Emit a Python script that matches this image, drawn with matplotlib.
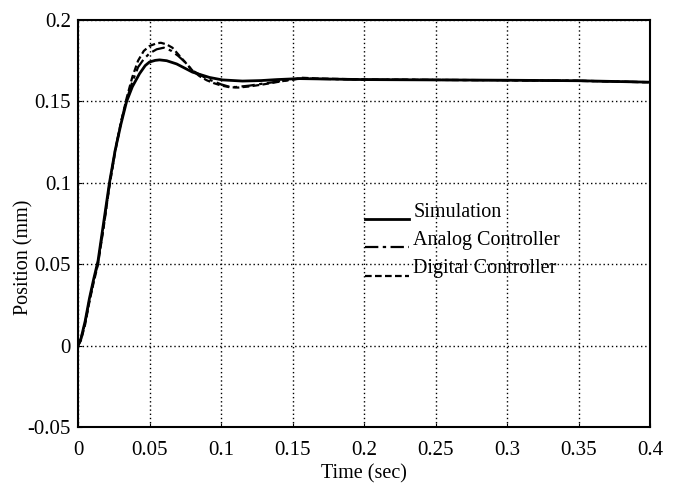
import numpy as np
import matplotlib
matplotlib.use("Agg")
import matplotlib.pyplot as plt
from matplotlib.legend_handler import HandlerLine2D

# ---- data ----
t_sim = [0, 0.002, 0.005, 0.008, 0.011, 0.014, 0.018, 0.022, 0.026, 0.030, 0.034,
         0.038, 0.043, 0.047, 0.050, 0.054, 0.057, 0.062, 0.069, 0.080, 0.092,
         0.101, 0.115, 0.128, 0.139, 0.155, 0.17, 0.20, 0.25, 0.30, 0.35, 0.40]
y_sim = [0, 0.004, 0.015, 0.029, 0.041, 0.052, 0.076, 0.100, 0.120, 0.136, 0.150,
         0.159, 0.167, 0.172, 0.1742, 0.1752, 0.1755, 0.1750, 0.1730, 0.1680, 0.1647,
         0.1632, 0.1625, 0.1628, 0.1634, 0.1640, 0.1638, 0.1634, 0.1632, 0.1630, 0.1627, 0.1618]

t_ana = [0, 0.002, 0.005, 0.008, 0.011, 0.014, 0.018, 0.022, 0.026, 0.030, 0.034,
         0.038, 0.042, 0.046, 0.050, 0.055, 0.060, 0.065, 0.070, 0.075, 0.080,
         0.090, 0.100, 0.105, 0.110, 0.120, 0.130, 0.140, 0.155, 0.17, 0.20, 0.25,
         0.30, 0.35, 0.40]
y_ana = [0, 0.004, 0.014, 0.028, 0.040, 0.051, 0.074, 0.099, 0.120, 0.137, 0.151,
         0.162, 0.171, 0.176, 0.1795, 0.1820, 0.1830, 0.1812, 0.1780, 0.1740, 0.1690,
         0.1640, 0.1605, 0.1592, 0.1588, 0.1597, 0.1610, 0.1622, 0.1640, 0.1638, 0.1634,
         0.1632, 0.1630, 0.1627, 0.1618]

t_dig = [0, 0.002, 0.005, 0.008, 0.011, 0.014, 0.018, 0.022, 0.026, 0.030, 0.034,
         0.038, 0.042, 0.046, 0.050, 0.055, 0.058, 0.062, 0.066, 0.070, 0.075,
         0.080, 0.085, 0.090, 0.095, 0.100, 0.106, 0.112, 0.120, 0.130, 0.140,
         0.157, 0.17, 0.20, 0.25, 0.30, 0.35, 0.40]
y_dig = [0, 0.003, 0.013, 0.027, 0.039, 0.050, 0.073, 0.098, 0.119, 0.137, 0.152,
         0.165, 0.175, 0.181, 0.184, 0.1857, 0.1860, 0.1850, 0.1830, 0.1790, 0.1740,
         0.1690, 0.1655, 0.1630, 0.1612, 0.1598, 0.1587, 0.1585, 0.1592, 0.1605, 0.1620,
         0.1645, 0.1640, 0.1635, 0.1632, 0.1630, 0.1626, 0.1617]

labels = ["Simulation", "Analog Controller", "Digital Controller"]
xticks = [0, 0.05, 0.1, 0.15, 0.2, 0.25, 0.3, 0.35, 0.4]
xticklabels = ["0", "0.05", "0.1", "0.15", "0.2", "0.25", "0.3", "0.35", "0.4"]
yticks = [-0.05, 0, 0.05, 0.1, 0.15, 0.2]
yticklabels = ["-0.05", "0", "0.05", "0.1", "0.15", "0.2"]

plt.rcParams['font.family'] = ['Liberation Serif', 'DejaVu Serif']

fig = plt.figure(figsize=(6.81, 4.83), dpi=100)
ax = fig.add_axes([78/681, 1-427/483, (650-78)/681, (427-20)/483])

l1, = ax.plot(t_sim, y_sim, color='black', lw=2.0, ls='-')
l2, = ax.plot(t_ana, y_ana, color='black', lw=1.6, ls=(0, (6, 2, 1.5, 2)))
l3, = ax.plot(t_dig, y_dig, color='black', lw=1.6, ls=(0, (3, 1.5)))

ax.set_xlim(0, 0.4)
ax.set_ylim(-0.05, 0.2)
ax.set_xticks(xticks)
ax.set_xticklabels(xticklabels)
ax.set_yticks(yticks)
ax.set_yticklabels(yticklabels)
ax.tick_params(direction='in', length=3, labelsize=15, colors='black')
ax.tick_params(axis='x', pad=10)
ax.tick_params(axis='y', pad=5)
ax.grid(True, color='black', ls=(0, (1, 2)), lw=1.0)
for s in ax.spines.values():
    s.set_linewidth(1.5)
    s.set_color('black')

ax.set_xlabel("Time (sec)", fontsize=14.5, labelpad=3)
ax.set_ylabel("Position (mm)", fontsize=14.5)
ax.yaxis.set_label_coords((33 - 78) / 572, (427 - 257) / 407)


class Under(HandlerLine2D):
    def create_artists(self, legend, orig_handle, xdescent, ydescent, width,
                       height, fontsize, trans):
        arts = super().create_artists(legend, orig_handle, xdescent, ydescent,
                                      width, height, fontsize, trans)
        for a in arts:
            xd = a.get_xdata()
            a.set_ydata(np.full(len(xd), -0.15 * height))
        return arts


leg = ax.legend([l1, l2, l3], labels, frameon=False, fontsize=14.5,
                loc='upper left', bbox_to_anchor=(365/681, 1-203/483),
                bbox_transform=fig.transFigure, borderpad=0, borderaxespad=0,
                handlelength=2.2, handletextpad=0.2, labelspacing=0.45,
                handler_map={l1: Under(), l2: Under(), l3: Under()})

fig.savefig("out.png", dpi=100)
